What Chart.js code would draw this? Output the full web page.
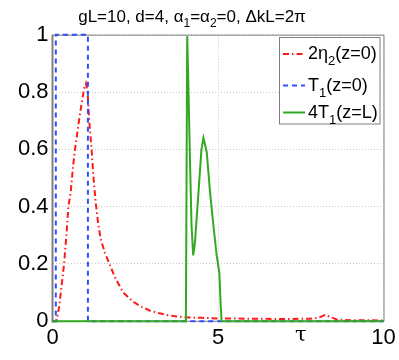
<!DOCTYPE html>
<html>
<head>
<meta charset="utf-8">
<script src="https://cdn.jsdelivr.net/npm/chart.js@4/dist/chart.umd.min.js"></script>
<style>
  html, body { margin: 0; padding: 0; background: #fff; }
  #wrap { width: 399px; height: 360px; position: relative; }
</style>
</head>
<body>
<div id="wrap"><canvas id="c" width="399" height="360"></canvas></div>
<script>
// ---- data ----
const etaTau = [0, 0.12, 0.2, 0.3, 0.35, 0.42, 0.48, 0.55, 0.62, 0.68, 0.8, 0.88, 0.96, 1.01, 1.06, 1.11, 1.18, 1.24, 1.3, 1.37, 1.45, 1.58, 1.72, 1.9, 2.14, 2.44, 2.7, 2.95, 3.2, 3.45, 3.7, 3.95, 4.5, 5, 6, 7, 7.8, 8.05, 8.23, 8.4, 8.6, 9, 10];
const etaVal = [0, 0, 0.05, 0.15, 0.2, 0.3, 0.4, 0.45, 0.54, 0.6, 0.7, 0.76, 0.815, 0.83, 0.8, 0.7, 0.6, 0.5, 0.42, 0.35, 0.29, 0.24, 0.2, 0.15, 0.1, 0.068, 0.05, 0.037, 0.029, 0.022, 0.018, 0.014, 0.012, 0.01, 0.009, 0.008, 0.009, 0.013, 0.022, 0.015, 0.006, 0.004, 0.003];

const t0Tau = [0, 0.1, 0.1, 1.07, 1.07, 10];
const t0Val = [0, 0, 1, 1, 0, 0];

const tLTau = [0, 4.03, 4.07, 4.1, 4.15, 4.2, 4.25, 4.3, 4.41, 4.5, 4.56, 4.66, 4.76, 4.86, 4.96, 5.04, 5.08, 5.11, 10];
const tLVal = [0, 0, 0.995, 0.85, 0.58, 0.336, 0.23, 0.27, 0.45, 0.6, 0.64, 0.59, 0.45, 0.336, 0.23, 0.17, 0.06, 0, 0];

const seriesLabels = ['2η2(z=0)', 'T1(z=0)', '4T1(z=L)'];
const xTicks = [0, 5, 10];
const xTickLabels = ['0', '5', '10'];
const yTicks = [0, 0.2, 0.4, 0.6, 0.8, 1];
const yTickLabels = ['0', '0.2', '0.4', '0.6', '0.8', '1'];
const xAxisLabel = 'τ';
const titleParts = [['gL=10, d=4, α', 0], ['1', 1], ['=α', 0], ['2', 1], ['=0, ΔkL=2π', 0]];
const legendParts = [
  [['2η', 0], ['2', 1], ['(z=0)', 0]],
  [['T', 0], ['1', 1], ['(z=0)', 0]],
  [['4T', 0], ['1', 1], ['(z=L)', 0]]
];

// ---- styles ----
const RED = '#ff1a1a';
const BLUE = '#2f4fff';
const GREEN = '#33a822';
const FONT = '"Liberation Sans", Arial, sans-serif';

const pts = (xs, ys) => xs.map((x, i) => ({ x: x, y: ys[i] }));

const datasets = [
  { label: seriesLabels[0], data: pts(etaTau, etaVal), borderColor: RED, borderWidth: 2, borderDash: [6, 3, 1.5, 3], order: 2 },
  { label: seriesLabels[1], data: pts(t0Tau, t0Val), borderColor: BLUE, borderWidth: 2, borderDash: [5, 4], order: 1 },
  { label: seriesLabels[2], data: pts(tLTau, tLVal), borderColor: GREEN, borderWidth: 2, order: 0 }
];
datasets.forEach(d => { d.pointRadius = 0; d.tension = 0; d.fill = false; d.clip = false; });

function drawParts(ctx, parts, x, y, size, subSize, subShift) {
  let cx = x;
  parts.forEach(([txt, sub]) => {
    ctx.font = (sub ? subSize : size) + 'px ' + FONT;
    ctx.fillText(txt, cx, sub ? y + subShift : y);
    cx += ctx.measureText(txt).width;
  });
  return cx - x;
}
function widthParts(ctx, parts, size, subSize) {
  let w = 0;
  parts.forEach(([txt, sub]) => {
    ctx.font = (sub ? subSize : size) + 'px ' + FONT;
    w += ctx.measureText(txt).width;
  });
  return w;
}

const decor = {
  id: 'decor',
  beforeDatasetsDraw(chart) {
    const { ctx, chartArea: a } = chart;
    ctx.save();
    ctx.strokeStyle = '#808080';
    ctx.lineWidth = 1;
    ctx.beginPath();
    ctx.moveTo(a.left, a.top + 0.5); ctx.lineTo(a.right + 0.5, a.top + 0.5);
    ctx.lineTo(a.right + 0.5, a.bottom); ctx.lineTo(a.left, a.bottom);
    ctx.stroke();
    ctx.lineWidth = 2;
    ctx.beginPath();
    ctx.moveTo(a.left, a.top); ctx.lineTo(a.left, a.bottom + 1);
    ctx.stroke();
    ctx.restore();
  },
  afterDraw(chart) {
    const { ctx, chartArea: a, scales } = chart;
    ctx.save();
    ctx.fillStyle = '#000';
    ctx.textBaseline = 'alphabetic';
    ctx.textAlign = 'left';
    // title
    const tw = widthParts(ctx, titleParts, 17, 12);
    drawParts(ctx, titleParts, 192 - tw / 2, 22, 17, 12, 5);
    // x axis label
    ctx.font = '21px "DejaVu Serif", serif';
    ctx.textAlign = 'center';
    ctx.fillText(xAxisLabel, scales.x.getPixelForValue(7.5), 341);
    ctx.textAlign = 'left';
    // legend
    const bx = 279, by = 37, bw = 100.5, bh = 86.5;
    ctx.fillStyle = '#fff';
    ctx.fillRect(bx, by, bw, bh);
    ctx.strokeStyle = '#808080';
    ctx.lineWidth = 1;
    ctx.strokeRect(bx + 0.5, by + 0.5, bw, bh);
    const rows = [54, 85.5, 112.5];
    datasets.forEach((d, i) => {
      ctx.save();
      ctx.strokeStyle = d.borderColor;
      ctx.lineWidth = 2;
      ctx.setLineDash(d.borderDash || []);
      ctx.beginPath();
      ctx.moveTo(283, rows[i]); ctx.lineTo(305, rows[i]);
      ctx.stroke();
      ctx.restore();
      ctx.fillStyle = '#000';
      drawParts(ctx, legendParts[i], 308, rows[i] + 5, 18, 13, 6);
    });
    ctx.restore();
  }
};

new Chart(document.getElementById('c'), {
  type: 'line',
  data: { datasets: datasets },
  plugins: [decor],
  options: {
    responsive: false,
    animation: false,
    events: [],
    layout: { padding: { top: 34.7, right: 15.5, left: 0, bottom: 0 } },
    plugins: { legend: { display: false }, title: { display: false }, tooltip: { enabled: false } },
    scales: {
      x: {
        type: 'linear', min: 0, max: 10,
        afterBuildTicks: s => { s.ticks = xTicks.map(v => ({ value: v })); },
        afterFit: s => { s.height = 38.7; },
        ticks: {
          autoSkip: false, maxRotation: 0, padding: 3, color: '#000',
          font: { family: FONT, size: 22 },
          callback: (v) => { const i = xTicks.indexOf(v); return i >= 0 ? xTickLabels[i] : ''; }
        },
        grid: { color: '#c8c8c8', lineWidth: 1, drawTicks: false, borderDash: [1, 2] },
        border: { display: false, dash: [1, 2] }
      },
      y: {
        type: 'linear', min: 0, max: 1,
        afterBuildTicks: s => { s.ticks = yTicks.map(v => ({ value: v })); },
        afterFit: s => { s.width = 52.5; },
        ticks: {
          autoSkip: false, padding: 4, color: '#000',
          font: { family: FONT, size: 22 },
          callback: (v) => { const i = yTicks.findIndex(t => Math.abs(t - v) < 1e-9); return i >= 0 ? yTickLabels[i] : ''; }
        },
        grid: { color: '#c8c8c8', lineWidth: 1, drawTicks: false, borderDash: [1, 2] },
        border: { display: false, dash: [1, 2] }
      }
    }
  }
});
</script>
</body>
</html>
